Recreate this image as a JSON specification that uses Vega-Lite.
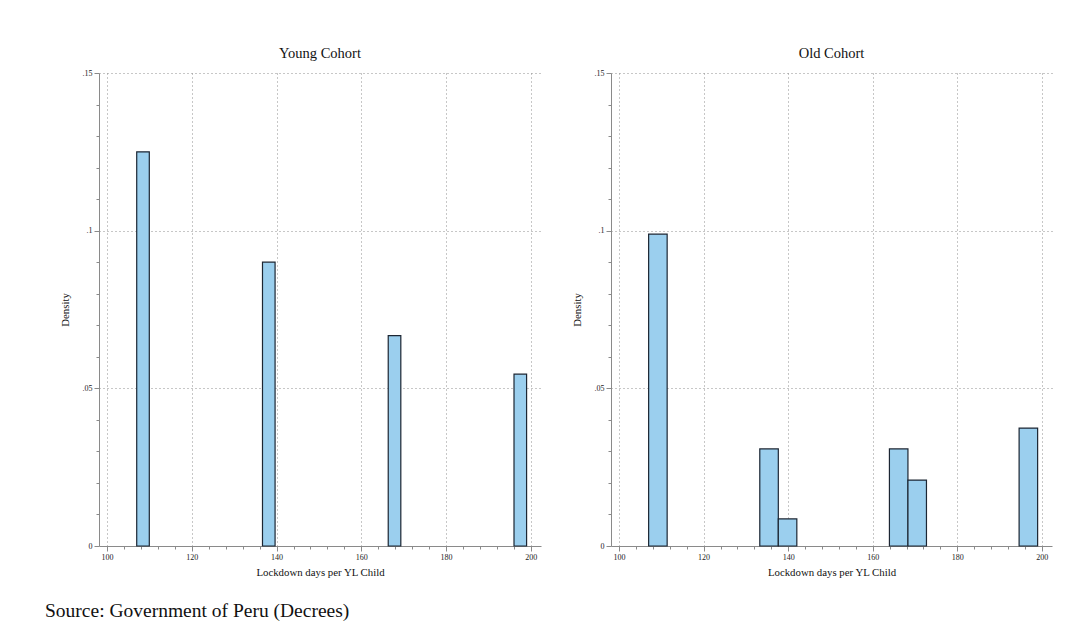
{
  "$schema": "https://vega.github.io/schema/vega-lite/v6.json",
  "background": "white",
  "padding": {"left": 45, "top": 45, "right": 10, "bottom": 10},
  "autosize": {"type": "pad"},
  "title": {
    "text": "Source: Government of Peru (Decrees)",
    "orient": "bottom",
    "anchor": "start",
    "font": "Liberation Serif",
    "fontSize": 19.5,
    "fontWeight": "normal",
    "color": "#111111",
    "offset": 25,
    "dx": -14
  },
  "data": {
    "values": [
      {"cohort": "Young", "x0": 107.0, "x1": 109.97, "density": 0.125},
      {"cohort": "Young", "x0": 136.68, "x1": 139.65, "density": 0.090},
      {"cohort": "Young", "x0": 166.35, "x1": 169.32, "density": 0.0667},
      {"cohort": "Young", "x0": 196.03, "x1": 199.0, "density": 0.0545},
      {"cohort": "Old", "x0": 107.0, "x1": 111.38, "density": 0.0989},
      {"cohort": "Old", "x0": 133.29, "x1": 137.67, "density": 0.0308},
      {"cohort": "Old", "x0": 137.67, "x1": 142.05, "density": 0.0086},
      {"cohort": "Old", "x0": 163.95, "x1": 168.33, "density": 0.0308},
      {"cohort": "Old", "x0": 168.33, "x1": 172.71, "density": 0.0209},
      {"cohort": "Old", "x0": 194.62, "x1": 199.0, "density": 0.0374}
    ]
  },
  "spacing": 30,
  "hconcat": [
    {
      "title": "Young Cohort",
      "width": 442,
      "height": 473,
      "transform": [{"filter": "datum.cohort == 'Young'"}],
      "mark": {"type": "rect", "fill": "#9bcfee", "stroke": "#1c2633", "strokeWidth": 1.2},
      "encoding": {
        "x": {
          "field": "x0", "type": "quantitative",
          "scale": {"domain": [98.1, 202.4], "nice": false, "zero": false},
          "title": "Lockdown days per YL Child",
          "axis": {
            "values": [100, 104, 108, 112, 116, 120, 124, 128, 132, 136, 140, 144, 148, 152, 156, 160, 164, 168, 172, 176, 180, 184, 188, 192, 196, 200],
            "labelExpr": "datum.value % 20 == 0 ? datum.label : ''",
            "tickSize": {"condition": {"test": "datum.value % 20 == 0", "value": 5}, "value": 3},
            "gridOpacity": {"condition": {"test": "datum.value % 20 == 0", "value": 1}, "value": 0},
            "grid": true
          }
        },
        "x2": {"field": "x1"},
        "y": {
          "field": "density", "type": "quantitative",
          "scale": {"domain": [0, 0.15], "nice": false},
          "title": "Density",
          "axis": {
            "values": [0, 0.01, 0.02, 0.03, 0.04, 0.05, 0.06, 0.07, 0.08, 0.09, 0.1, 0.11, 0.12, 0.13, 0.14, 0.15],
            "labelExpr": "round(datum.value*100) == 0 ? '0' : (round(datum.value*100) % 5 == 0 ? substring(format(datum.value, '~g'), 1) : '')",
            "tickSize": {"condition": {"test": "round(datum.value*100) % 5 == 0", "value": 5}, "value": 3},
            "gridOpacity": {"condition": {"test": "round(datum.value*100) % 5 == 0 && datum.value > 0", "value": 1}, "value": 0},
            "grid": true
          }
        }
      }
    },
    {
      "title": "Old Cohort",
      "width": 441,
      "height": 473,
      "transform": [{"filter": "datum.cohort == 'Old'"}],
      "mark": {"type": "rect", "fill": "#9bcfee", "stroke": "#1c2633", "strokeWidth": 1.2},
      "encoding": {
        "x": {
          "field": "x0", "type": "quantitative",
          "scale": {"domain": [98.1, 202.4], "nice": false, "zero": false},
          "title": "Lockdown days per YL Child",
          "axis": {
            "values": [100, 104, 108, 112, 116, 120, 124, 128, 132, 136, 140, 144, 148, 152, 156, 160, 164, 168, 172, 176, 180, 184, 188, 192, 196, 200],
            "labelExpr": "datum.value % 20 == 0 ? datum.label : ''",
            "tickSize": {"condition": {"test": "datum.value % 20 == 0", "value": 5}, "value": 3},
            "gridOpacity": {"condition": {"test": "datum.value % 20 == 0", "value": 1}, "value": 0},
            "grid": true
          }
        },
        "x2": {"field": "x1"},
        "y": {
          "field": "density", "type": "quantitative",
          "scale": {"domain": [0, 0.15], "nice": false},
          "title": "Density",
          "axis": {
            "values": [0, 0.01, 0.02, 0.03, 0.04, 0.05, 0.06, 0.07, 0.08, 0.09, 0.1, 0.11, 0.12, 0.13, 0.14, 0.15],
            "labelExpr": "round(datum.value*100) == 0 ? '0' : (round(datum.value*100) % 5 == 0 ? substring(format(datum.value, '~g'), 1) : '')",
            "tickSize": {"condition": {"test": "round(datum.value*100) % 5 == 0", "value": 5}, "value": 3},
            "gridOpacity": {"condition": {"test": "round(datum.value*100) % 5 == 0 && datum.value > 0", "value": 1}, "value": 0},
            "grid": true
          }
        }
      }
    }
  ],
  "config": {
    "font": "Liberation Serif",
    "view": {"stroke": null},
    "title": {"font": "Liberation Serif", "fontSize": 14.5, "fontWeight": "normal", "color": "#111111", "offset": 8},
    "axis": {
      "domainColor": "#8a8a8a",
      "tickColor": "#8a8a8a",
      "labelFont": "Liberation Serif",
      "labelFontSize": 8,
      "labelColor": "#222222",
      "titleFont": "Liberation Serif",
      "titleFontSize": 10.8,
      "titleFontWeight": "normal",
      "titleColor": "#111111",
      "gridColor": "#8f8f8f",
      "gridDash": [1, 3],
      "gridWidth": 1,
      "labelOverlap": false,
      "labelFlush": false,
      "labelPadding": 2
    },
    "axisX": {"titlePadding": 5},
    "axisY": {"titlePadding": 12}
  }
}
